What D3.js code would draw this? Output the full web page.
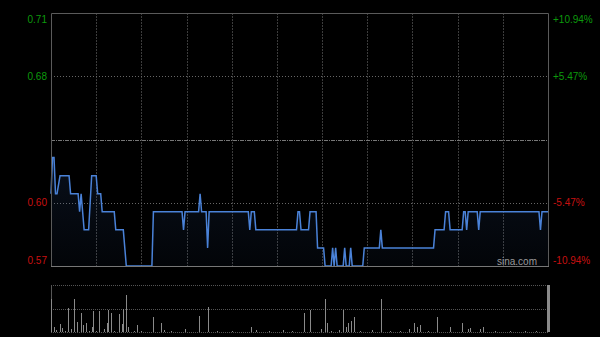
<!DOCTYPE html>
<meta charset="utf-8">
<head>
<script src="https://cdn.jsdelivr.net/npm/d3@7"></script>
<style>
  body { margin: 0; background: #000; }
  text { font-family: Arial, "Liberation Sans", sans-serif; }
</style>
</head>
<body>
<script type="text/javascript">

// data
var prevClose = 0.64;
var pctTicks = [10.94, 5.47, 0, -5.47, -10.94];
var priceLabels = ["0.71", "0.68", "", "0.60", "0.57"];
var pctLabels = ["+10.94%", "+5.47%", "", "-5.47%", "-10.94%"];

// minute index (0..330) and price at each turning point of the line
var priceMin = [0, 1, 2, 3, 4, 6, 12, 13, 18, 19, 20, 22, 25, 27, 30, 31, 33, 34, 42, 43, 48, 50,
  67, 68, 87, 88, 89, 98, 99, 100, 103, 104, 105, 131, 132, 133, 135, 136, 163, 164, 165, 166,
  171, 172, 176, 177, 181, 182, 186, 187, 188, 189, 190, 194, 195, 196, 198, 199, 200, 207, 208,
  218, 219, 220, 254, 255, 261, 262, 264, 265, 273, 274, 275, 276, 277, 283, 284, 285, 324, 325, 326, 330];
var priceVal = [0.61, 0.63, 0.63, 0.61, 0.61, 0.62, 0.62, 0.61, 0.61, 0.60, 0.61, 0.59, 0.59, 0.62, 0.62, 0.61, 0.61, 0.60, 0.60, 0.59, 0.59, 0.57,
  0.57, 0.60, 0.60, 0.59, 0.60, 0.60, 0.61, 0.60, 0.60, 0.58, 0.60, 0.60, 0.59, 0.60, 0.60, 0.59, 0.59, 0.60, 0.60, 0.59,
  0.59, 0.60, 0.60, 0.58, 0.58, 0.57, 0.57, 0.58, 0.57, 0.58, 0.57, 0.57, 0.58, 0.57, 0.57, 0.58, 0.57, 0.57, 0.58,
  0.58, 0.59, 0.58, 0.58, 0.59, 0.59, 0.60, 0.60, 0.59, 0.59, 0.60, 0.60, 0.59, 0.60, 0.60, 0.59, 0.60, 0.60, 0.59, 0.60, 0.60];

// volume bars (relative units)
var volMin = [0, 2, 3, 6, 7, 9, 11, 13, 15, 17, 20, 21, 23, 25, 27, 28, 30, 32, 35, 37, 38, 40, 42, 45, 47, 48, 50, 51,
  55, 57, 60, 68, 73, 75, 80, 89, 98, 104, 110, 120, 133, 136, 145, 154, 160, 168, 172, 179, 182, 183, 186,
  191, 194, 196, 197, 199, 201, 205, 213, 219, 225, 232, 238, 241, 243, 245, 250, 256, 265, 273, 277, 278,
  285, 287, 295, 305, 315, 322, 330];
var volVal = [33, 5, 2, 8, 4, 1, 24, 3, 33, 10, 19, 7, 9, 1, 5, 21, 1, 21, 3, 9, 22, 19, 1, 18, 8, 23, 37, 5,
  1, 7, 1, 15, 9, 2, 1, 3, 16, 25, 1, 1, 5, 2, 1, 2, 1, 19, 22, 3, 33, 9, 1,
  2, 22, 5, 9, 11, 15, 1, 2, 33, 1, 1, 3, 9, 5, 7, 1, 15, 5, 9, 3, 4,
  3, 5, 1, 1, 1, 1, 47];

var w = 600;
var h = 337;
var pl = 51, pr = 548, pt = 13, pb = 266;
var vt = 285, vb = 332;
var nMin = 330;

var svg = d3.select("body").append("svg")
    .attr("width", w)
    .attr("height", h)
    .style("background", "#000");

var x = d3.scaleLinear().domain([0, nMin]).range([pl, pr]);
var y = d3.scaleLinear()
    .domain([prevClose * (1 - 0.1094), prevClose * (1 + 0.1094)])
    .range([pb, pt]);
var pctY = function(p) { return y(prevClose * (1 + p / 100)); };
var yv = d3.scaleLinear().domain([0, d3.max(volVal)]).range([vb, vt]);

// vertical grid
var vgrid = d3.range(1, 11).map(function(i) { return pl + (pr - pl) * i / 11; });
svg.selectAll(".vg")
  .data(vgrid).enter().append("line")
  .attr("x1", function(d) { return Math.round(d) + 0.5; })
  .attr("x2", function(d) { return Math.round(d) + 0.5; })
  .attr("y1", pt).attr("y2", pb)
  .attr("stroke", "#3c3c3c")
  .attr("stroke-dasharray", "2,1");

// horizontal grid
svg.selectAll(".hg")
  .data([5.47, -5.47]).enter().append("line")
  .attr("x1", pl).attr("x2", pr)
  .attr("y1", function(d) { return Math.round(pctY(d)) + 0.5; })
  .attr("y2", function(d) { return Math.round(pctY(d)) + 0.5; })
  .attr("stroke", "#666")
  .attr("stroke-dasharray", "1,2");

svg.append("line")
  .attr("x1", pl).attr("x2", pr)
  .attr("y1", Math.round(pctY(0)) + 0.5).attr("y2", Math.round(pctY(0)) + 0.5)
  .attr("stroke", "#777")
  .attr("stroke-dasharray", "4,1,1,1");

// area + line
var pts = priceMin.map(function(m, i) { return [m, priceVal[i]]; });

var grad = svg.append("defs").append("linearGradient")
  .attr("id", "fillg").attr("x1", 0).attr("y1", 0).attr("x2", 0).attr("y2", 1);
grad.append("stop").attr("offset", "0%").attr("stop-color", "#3560a8").attr("stop-opacity", 0.16);
grad.append("stop").attr("offset", "100%").attr("stop-color", "#3560a8").attr("stop-opacity", 0.05);

var area = d3.area()
  .x(function(d) { return x(d[0]); })
  .y0(pb)
  .y1(function(d) { return y(d[1]); });

svg.append("path")
  .datum(pts)
  .attr("d", area)
  .attr("fill", "url(#fillg)");

var line = d3.line()
  .x(function(d) { return x(d[0]); })
  .y(function(d) { return y(d[1]); });

svg.append("path")
  .datum(pts)
  .attr("d", line)
  .attr("fill", "none")
  .attr("stroke", "#4a82d8")
  .attr("stroke-width", 1.5);

// frame
svg.append("path")
  .attr("d", "M" + (pl + 0.5) + "," + pb + "V" + (pt + 0.5) + "H" + (pr + 0.5) + "V" + pb)
  .attr("fill", "none")
  .attr("stroke", "#5a5a5a");
svg.append("line")
  .attr("x1", pl).attr("x2", pr + 1)
  .attr("y1", pb + 0.5).attr("y2", pb + 0.5)
  .attr("stroke", "#777");

// axis labels
svg.selectAll(".lt")
  .data(pctTicks).enter().append("text")
  .attr("x", 47)
  .attr("y", function(d, i) { return pctY(d) + (i == 0 ? 9.5 : (i == 4 ? -2 : 3.5)); })
  .attr("text-anchor", "end")
  .attr("font-size", 10)
  .attr("fill", function(d) { return d > 0 ? "#0c9a0c" : "#c81010"; })
  .text(function(d, i) { return priceLabels[i]; });

svg.selectAll(".rt")
  .data(pctTicks).enter().append("text")
  .attr("x", 553)
  .attr("y", function(d, i) { return pctY(d) + (i == 0 ? 9.5 : (i == 4 ? -2 : 3.5)); })
  .attr("font-size", 10)
  .attr("fill", function(d) { return d > 0 ? "#0c9a0c" : "#c81010"; })
  .text(function(d, i) { return pctLabels[i]; });

svg.append("text")
  .attr("x", 537).attr("y", 264.5)
  .attr("text-anchor", "end")
  .attr("font-size", 10)
  .attr("fill", "#9a9a9a")
  .text("sina.com");

// volume panel
svg.selectAll(".vgl")
  .data([vt, (vt + vb) / 2, vb]).enter().append("line")
  .attr("x1", pl).attr("x2", pr)
  .attr("y1", function(d) { return Math.round(d) + 0.5; })
  .attr("y2", function(d) { return Math.round(d) + 0.5; })
  .attr("stroke", "#555")
  .attr("stroke-dasharray", "1,1");

svg.append("line")
  .attr("x1", pl + 0.5).attr("x2", pl + 0.5)
  .attr("y1", vt).attr("y2", vb)
  .attr("stroke", "#555");

svg.selectAll(".vb")
  .data(volMin).enter().append("line")
  .attr("x1", function(d) { return Math.round(x(d)) + 0.5; })
  .attr("x2", function(d) { return Math.round(x(d)) + 0.5; })
  .attr("y1", vb)
  .attr("y2", function(d, i) { return yv(volVal[i]); })
  .attr("stroke", "#8a8a8a")
  .attr("stroke-width", function(d, i) { return i == volMin.length - 1 ? 3 : 1; });

</script>
</body>
